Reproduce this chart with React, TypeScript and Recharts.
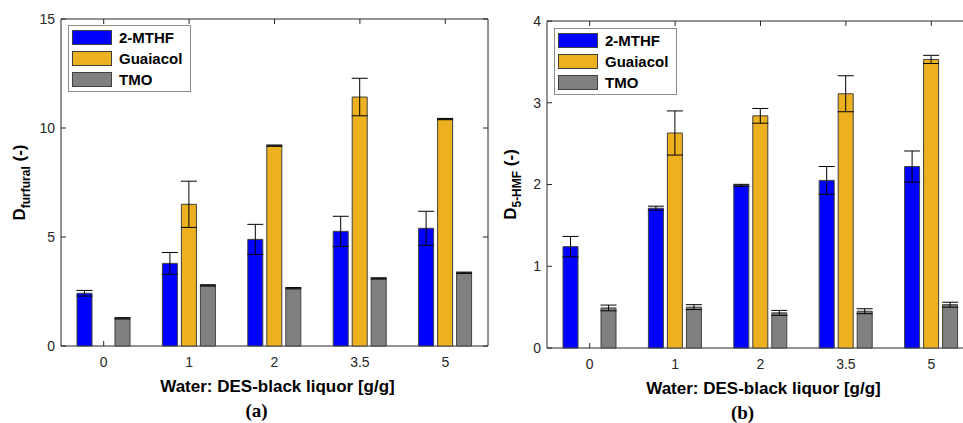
import { Bar, BarChart, ErrorBar, Legend, Line, XAxis, YAxis } from "recharts";

const categories = ["0", "1", "2", "3.5", "5"];
const seriesNames = ["2-MTHF", "Guaiacol", "TMO"];

// (a) furfural
const furMthf = [2.42, 3.79, 4.89, 5.26, 5.4];
const furMthfErr = [0.13, 0.5, 0.69, 0.69, 0.78];
const furGuaiacol = [0, 6.5, 9.19, 11.42, 10.41];
const furGuaiacolErr = [0, 1.06, 0.03, 0.86, 0.03];
const furTmo = [1.27, 2.78, 2.65, 3.1, 3.36];
const furTmoErr = [0.03, 0.03, 0.03, 0.03, 0.03];
const furTicks = [0, 5, 10, 15];

// (b) 5-HMF
const hmfMthf = [1.24, 1.71, 1.99, 2.05, 2.22];
const hmfMthfErr = [0.125, 0.025, 0.012, 0.17, 0.19];
const hmfGuaiacol = [0, 2.63, 2.84, 3.11, 3.53];
const hmfGuaiacolErr = [0, 0.27, 0.09, 0.22, 0.05];
const hmfTmo = [0.49, 0.5, 0.43, 0.45, 0.53];
const hmfTmoErr = [0.035, 0.03, 0.03, 0.03, 0.03];
const hmfTicks = [0, 1, 2, 3, 4];

const furData = categories.map((c, i) => ({
  cat: c,
  m: furMthf[i], me: furMthfErr[i],
  g: furGuaiacol[i], ge: furGuaiacolErr[i],
  t: furTmo[i], te: furTmoErr[i],
}));
const hmfData = categories.map((c, i) => ({
  cat: c,
  m: hmfMthf[i], me: hmfMthfErr[i],
  g: hmfGuaiacol[i], ge: hmfGuaiacolErr[i],
  t: hmfTmo[i], te: hmfTmoErr[i],
}));

const sans = "'Liberation Sans', Arial, sans-serif";
const serif = "'Liberation Serif', 'Times New Roman', serif";
const axisColor = "#262626";
const colors = ["#0000FF", "#EDB120", "#808080"];
const tickStyle = { fontSize: 14, fill: axisColor, fontFamily: sans };
const tickMark = { stroke: axisColor, strokeWidth: 1 };

const renderLegend = (props: any) => (
  <div style={{ border: "1px solid #8c8c8c", background: "#fff", padding: "1px 0 1px 3px", width: 118, fontFamily: sans, fontWeight: "bold", fontSize: 15, color: "#000" }}>
    {(props.payload || []).filter((e: any) => e.type !== "none").map((entry: any) => (
      <div key={entry.value} style={{ display: "flex", alignItems: "center", height: 21 }}>
        <span style={{ display: "inline-block", width: 40, height: 15, background: entry.color, border: "1px solid #404040", boxSizing: "border-box", marginRight: 7 }} />
        <span>{entry.value}</span>
      </div>
    ))}
  </div>
);

function YLabel({ viewBox, sub, dx }: any) {
  const x = viewBox.x + dx;
  const y = viewBox.y + viewBox.height / 2;
  return (
    <text transform={`translate(${x},${y}) rotate(-90)`} textAnchor="middle" fontFamily={sans} fontWeight="bold" fontSize={17} fill="#000">
      <tspan>D</tspan>
      <tspan fontSize={12} dy={5}>{sub}</tspan>
      <tspan dy={-5}> (-)</tspan>
    </text>
  );
}

function XLabel({ viewBox, tag }: any) {
  const cx = viewBox.x + viewBox.width / 2;
  return (
    <g>
      <text x={cx + 3} y={viewBox.y + 46} textAnchor="middle" fontFamily={sans} fontWeight="bold" fontSize={17} fill="#000">
        Water: DES-black liquor [g/g]
      </text>
      <text x={cx - 18} y={viewBox.y + 71} textAnchor="middle" fontFamily={serif} fontWeight="bold" fontSize={19} fill="#000">
        {tag}
      </text>
    </g>
  );
}

function Panel({ data, ticks, sub, tag, width, yWidth, top, bottom, labelDx, legendPos }: any) {
  const max = ticks[ticks.length - 1];
  return (
    <BarChart width={width} height={423} data={data} margin={{ top: top - 1, right: 1, bottom, left: 0 }} barSize={15} barGap={4}>
      <XAxis dataKey="cat" height={30} tick={tickStyle} tickSize={-5} tickMargin={16} stroke={axisColor}
        tickLine={tickMark} zIndex={0} label={(p: any) => <XLabel {...p} tag={tag} />} />
      <XAxis dataKey="cat" xAxisId="top" orientation="top" height={1} tickSize={-5}
        tickLine={tickMark} tickFormatter={() => ""} stroke={axisColor} />
      <YAxis domain={[0, max]} ticks={ticks} width={yWidth} tick={tickStyle} tickSize={-5} tickMargin={11} stroke={axisColor}
        tickLine={tickMark} label={(p: any) => <YLabel {...p} sub={sub} dx={labelDx} />} />
      <YAxis yAxisId="right" orientation="right" domain={[0, max]} ticks={ticks} width={1} tickSize={-5}
        tickLine={tickMark} tickFormatter={() => ""} stroke={axisColor} />
      <Legend layout="vertical" align="center" verticalAlign="middle" content={renderLegend}
        wrapperStyle={{ left: legendPos[0], top: legendPos[1], width: "auto", height: "auto" }} />
      <Bar dataKey="m" name={seriesNames[0]} fill={colors[0]} stroke="#404040" strokeWidth={1} isAnimationActive={false}>
        <ErrorBar dataKey="me" width={8} stroke="#000" strokeWidth={1} isAnimationActive={false} />
      </Bar>
      <Bar dataKey="g" name={seriesNames[1]} fill={colors[1]} stroke="#404040" strokeWidth={1} isAnimationActive={false}>
        <ErrorBar dataKey="ge" width={8} stroke="#000" strokeWidth={1} isAnimationActive={false} />
      </Bar>
      <Bar dataKey="t" name={seriesNames[2]} fill={colors[2]} stroke="#404040" strokeWidth={1} isAnimationActive={false}>
        <ErrorBar dataKey="te" width={8} stroke="#000" strokeWidth={1} isAnimationActive={false} />
      </Bar>
      {/* invisible series so the box axes (top, right) get a scale and ticks */}
      <Line dataKey="m" xAxisId="top" yAxisId="right" stroke="none" dot={false} activeDot={false}
        legendType="none" isAnimationActive={false} />
    </BarChart>
  );
}

export default function App() {
  return (
    <div style={{ position: "absolute", left: 0, top: 0, width: 963, height: 423, overflow: "hidden", background: "#fff" }}>
      <div style={{ position: "absolute", left: 0, top: 0 }}>
        <Panel data={furData} ticks={furTicks} sub="furfural" tag="(a)" width={490} yWidth={61} top={19} bottom={47} labelDx={25} legendPos={[68, 25]} />
      </div>
      <div style={{ position: "absolute", left: 490, top: 0 }}>
        <Panel data={hmfData} ticks={hmfTicks} sub="5-HMF" tag="(b)" width={486} yWidth={57} top={21} bottom={45} labelDx={26} legendPos={[64, 28]} />
      </div>
    </div>
  );
}
